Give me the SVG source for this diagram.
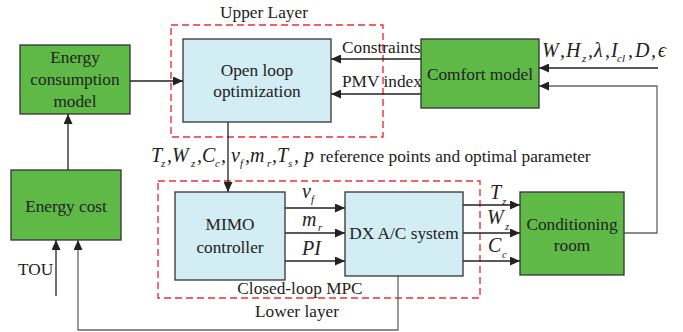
<svg xmlns="http://www.w3.org/2000/svg" width="683" height="332" viewBox="0 0 683 332">
  <style>
    .green { fill: #5fb946; stroke: #333; stroke-width: 1.3; }
    .blue { fill: #d2edf3; stroke: #333; stroke-width: 1.3; }
    .layer { fill: none; stroke: #ec2f3b; stroke-width: 1.4; stroke-dasharray: 7 4; }
    .wire { fill: none; stroke: #222; stroke-width: 1.3; }
    .wire-grey { fill: none; stroke: #666; stroke-width: 1.3; }
    .arrow { marker-end: url(#head); }
    text { fill: #222; }
    .lbl { font-size: 17.3px; }
    .mid { text-anchor: middle; }
    .m { font-size: 20px; font-style: italic; }
    .s { font-size: 11px; font-style: italic; }
  </style>
  <defs>
    <marker id="head" markerUnits="userSpaceOnUse" markerWidth="11" markerHeight="9" refX="10" refY="4.5" orient="auto">
      <path d="M0,0 L10,4.5 L0,9 Z" fill="#222"/>
    </marker>
  </defs>

  <rect width="683" height="332" fill="#fff"/>

  <!-- layer frames -->
  <g id="upper-layer">
    <rect class="layer" x="171" y="25" width="212" height="112"/>
    <text class="lbl mid" x="264" y="18" font-family="Liberation Serif">Upper Layer</text>
  </g>
  <g id="lower-layer">
    <rect class="layer" x="158" y="181" width="322" height="117"/>
    <text class="lbl mid" x="300" y="294" font-family="'Liberation Serif', serif">Closed-loop MPC</text>
    <text class="lbl mid" x="297" y="317" font-family="Liberation Serif, serif">Lower layer</text>
  </g>

  <!-- connectors -->
  <g id="connectors">
    <path class="wire arrow" d="M130,81 H183"/>
    <path class="wire arrow" d="M68,170 V114"/>
    <path class="wire arrow" d="M56,296 V240"/>
    <path class="wire-grey arrow" d="M398,276 V330 H78 V240"/>
    <path class="wire arrow" d="M421,59 H331"/>
    <path class="wire arrow" d="M421,94 H331"/>
    <path class="wire arrow" d="M658,68 H539"/>
    <path class="wire-grey arrow" d="M624,233 H657 V86 H539"/>
    <path class="wire arrow" d="M228,122 V192"/>
    <path class="wire arrow" d="M285,208 H345"/>
    <path class="wire arrow" d="M285,233 H345"/>
    <path class="wire arrow" d="M285,261 H345"/>
    <path class="wire arrow" d="M463,205 H520"/>
    <path class="wire arrow" d="M463,233 H520"/>
    <path class="wire arrow" d="M463,261 H520"/>
  </g>

  <!-- nodes -->
  <g id="energy-consumption-model">
    <rect class="green" x="20" y="45" width="110" height="69"/>
    <text class="lbl mid" x="75" y="63" font-family="Liberation Serif">Energy</text>
    <text class="lbl mid" x="75" y="85" font-family="'Liberation Serif', serif">consumption</text>
    <text class="lbl mid" x="75" y="107" font-family="Liberation Serif, serif">model</text>
  </g>
  <g id="energy-cost">
    <rect class="green" x="11" y="170" width="110" height="70"/>
    <text class="lbl mid" x="66" y="212" font-family="Liberation Serif">Energy cost</text>
  </g>
  <g id="open-loop-optimization">
    <rect class="blue" x="183" y="39" width="148" height="83"/>
    <text class="lbl mid" x="257" y="76" font-family="'Liberation Serif', serif">Open loop</text>
    <text class="lbl mid" x="257" y="97" font-family="Liberation Serif, serif">optimization</text>
  </g>
  <g id="comfort-model">
    <rect class="green" x="421" y="39" width="118" height="69"/>
    <text class="lbl mid" x="480" y="80" font-family="Liberation Serif">Comfort model</text>
  </g>
  <g id="mimo-controller">
    <rect class="blue" x="175" y="192" width="110" height="88"/>
    <text class="lbl mid" x="230" y="230" font-family="'Liberation Serif', serif">MIMO</text>
    <text class="lbl mid" x="230" y="253" font-family="Liberation Serif, serif">controller</text>
  </g>
  <g id="dx-ac-system">
    <rect class="blue" x="345" y="192" width="118" height="84"/>
    <text class="lbl mid" x="404" y="239" font-family="Liberation Serif">DX A/C system</text>
  </g>
  <g id="conditioning-room">
    <rect class="green" x="520" y="192" width="104" height="83"/>
    <text class="lbl mid" x="572" y="230" font-family="'Liberation Serif', serif">Conditioning</text>
    <text class="lbl mid" x="572" y="251" font-family="Liberation Serif, serif">room</text>
  </g>

  <!-- connector labels -->
  <g id="labels">
    <text class="lbl" x="342" y="53" font-family="Liberation Serif">Constraints</text>
    <text class="lbl" x="342" y="87" font-family="'Liberation Serif', serif">PMV index</text>
    <text class="lbl" x="18" y="275" font-family="Liberation Serif, serif">TOU</text>
  </g>

  <!-- comfort inputs: W, Hz, lambda, Icl, D, epsilon -->
  <g id="comfort-inputs">
    <text class="m" x="542" y="57" font-family="Liberation Serif">W</text>
    <text class="m" x="560" y="57" font-family="Liberation Serif">,</text>
    <text class="m" x="566" y="57" font-family="Liberation Serif">H</text>
    <text class="s" x="582" y="62" font-family="Liberation Serif">z</text>
    <text class="m" x="588" y="57" font-family="Liberation Serif">,</text>
    <text class="m" x="594" y="57" font-family="Liberation Serif">&#955;</text>
    <text class="m" x="605" y="57" font-family="Liberation Serif">,</text>
    <text class="m" x="611" y="57" font-family="Liberation Serif">I</text>
    <text class="s" x="617" y="62" font-family="Liberation Serif">cl</text>
    <text class="m" x="628" y="57" font-family="Liberation Serif">,</text>
    <text class="m" x="635" y="57" font-family="Liberation Serif">D</text>
    <text class="m" x="651" y="57" font-family="Liberation Serif">,</text>
    <text class="m" x="658" y="57" font-family="Liberation Serif">&#1013;</text>
  </g>

  <!-- reference points line -->
  <g id="reference-line">
    <text class="m" x="151" y="162" font-family="'Liberation Serif', serif">T</text>
    <text class="s" x="161" y="167" font-family="'Liberation Serif', serif">z</text>
    <text class="m" x="167" y="162" font-family="'Liberation Serif', serif">,</text>
    <text class="m" x="172" y="162" font-family="'Liberation Serif', serif">W</text>
    <text class="s" x="191" y="167" font-family="'Liberation Serif', serif">z</text>
    <text class="m" x="197" y="162" font-family="'Liberation Serif', serif">,</text>
    <text class="m" x="202" y="162" font-family="'Liberation Serif', serif">C</text>
    <text class="s" x="215" y="167" font-family="'Liberation Serif', serif">c</text>
    <text class="m" x="221" y="162" font-family="'Liberation Serif', serif">,</text>
    <text class="m" x="231" y="162" font-family="'Liberation Serif', serif">v</text>
    <text class="s" x="240" y="167" font-family="'Liberation Serif', serif">f</text>
    <text class="m" x="245" y="162" font-family="'Liberation Serif', serif">,</text>
    <text class="m" x="250" y="162" font-family="'Liberation Serif', serif">m</text>
    <text class="s" x="267" y="167" font-family="'Liberation Serif', serif">r</text>
    <text class="m" x="272" y="162" font-family="'Liberation Serif', serif">,</text>
    <text class="m" x="277" y="162" font-family="'Liberation Serif', serif">T</text>
    <text class="s" x="288" y="167" font-family="'Liberation Serif', serif">s</text>
    <text class="m" x="294" y="162" font-family="'Liberation Serif', serif">,</text>
    <text class="m" x="304" y="162" font-family="'Liberation Serif', serif">p</text>
    <text class="lbl" x="320" y="162" font-family="Liberation Serif">reference points and optimal parameter</text>
  </g>

  <!-- controller outputs -->
  <g id="control-signals">
    <text class="m" x="302" y="198" font-family="Liberation Serif, serif">v</text>
    <text class="s" x="311" y="203" font-family="Liberation Serif, serif">f</text>
    <text class="m" x="302" y="226" font-family="Liberation Serif, serif">m</text>
    <text class="s" x="318" y="231" font-family="Liberation Serif, serif">r</text>
    <text class="m" x="302" y="255" font-family="Liberation Serif, serif">PI</text>
  </g>

  <!-- plant outputs -->
  <g id="plant-outputs">
    <text class="m" x="490" y="199" font-family="Liberation Serif">T</text>
    <text class="s" x="502" y="205" font-family="Liberation Serif">z</text>
    <text class="m" x="487" y="224" font-family="Liberation Serif">W</text>
    <text class="s" x="505" y="230" font-family="Liberation Serif">z</text>
    <text class="m" x="488" y="252" font-family="Liberation Serif">C</text>
    <text class="s" x="502" y="258" font-family="Liberation Serif">c</text>
  </g>
</svg>
